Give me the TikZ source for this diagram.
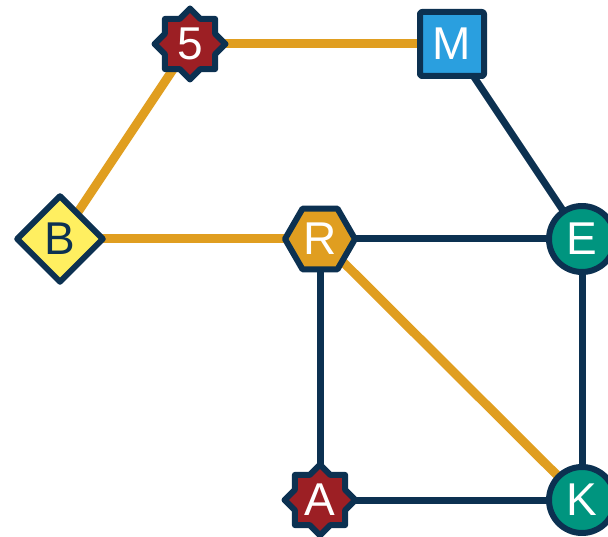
\documentclass[tikz,border=0pt]{standalone}
\usepackage{fontspec}
\setmainfont{Liberation Sans}
\usetikzlibrary{shapes.geometric,backgrounds}
\definecolor{navy}{HTML}{0C3151}
\definecolor{gold}{HTML}{E09E20}
\definecolor{wine}{HTML}{9C1F24}
\definecolor{sky}{HTML}{2A9FDF}
\definecolor{lemon}{HTML}{FFEF60}
\definecolor{teal2}{HTML}{00957F}
\tikzset{
  nd/.style={draw=navy, line width=6pt, line join=round, inner sep=0pt,
    font=\fontsize{46}{46}\selectfont, text=white},
  starnode/.style={nd, star, star points=8, star point ratio=1.31, minimum size=71pt, fill=wine},
  sqnode/.style={nd, rectangle, rounded corners=2pt, minimum size=64pt, fill=sky},
  dianode/.style={nd, diamond, minimum width=88pt, minimum height=88pt, fill=lemon, text=navy},
  hexnode/.style={nd, regular polygon, regular polygon sides=6, minimum size=70pt, fill=gold},
  circnode/.style={nd, circle, minimum size=66pt, fill=teal2},
  oedge/.style={draw=gold, line width=9pt},
  nedge/.style={draw=navy, line width=7pt},
}
\begin{document}
\begin{tikzpicture}[x=1pt,y=-1pt]
\useasboundingbox (0,0) rectangle (608,537);
\node[starnode] (n5) at (190,44) {5};
\node[sqnode] (M) at (452,44) {M};
\node[dianode] (B) at (60,239) {B};
\node[hexnode] (R) at (320,239) {R};
\node[circnode] (E) at (582,239) {E};
\node[starnode] (A) at (320,500) {A};
\node[circnode] (K) at (582,500) {K};
\begin{scope}[on background layer]
\draw[oedge] (n5.center) -- (M.center);
\draw[oedge] (n5.center) -- (B.center);
\draw[oedge] (B.center) -- (R.center);
\draw[oedge] (R.center) -- (K.center);
\draw[nedge] (M.center) -- (E.center);
\draw[nedge] (R.center) -- (E.center);
\draw[nedge] (R.center) -- (A.center);
\draw[nedge] (E.center) -- (K.center);
\draw[nedge] (A.center) -- (K.center);
\end{scope}
\end{tikzpicture}
\end{document}
